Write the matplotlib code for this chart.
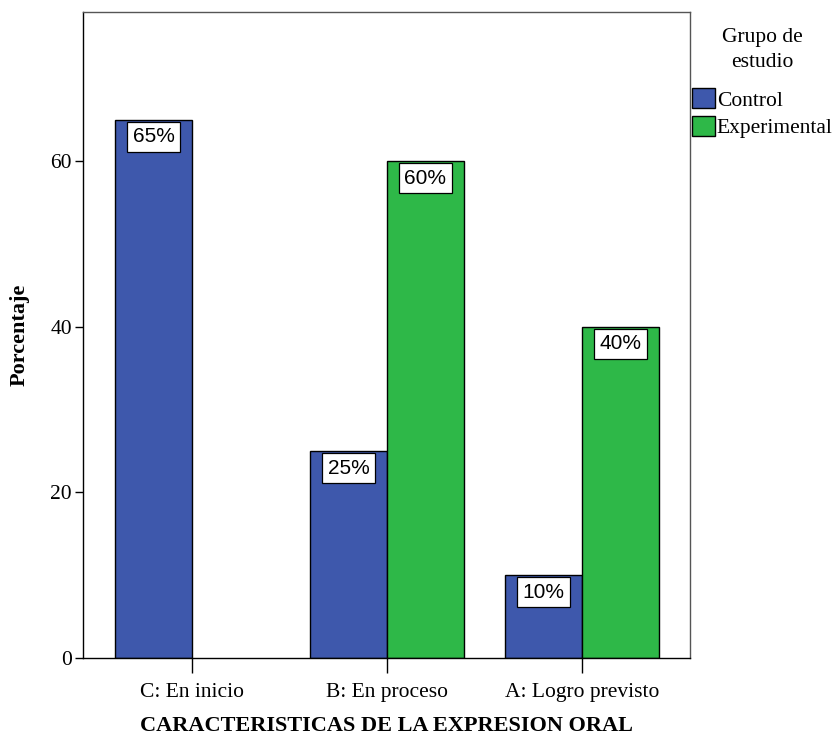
import numpy as np
import matplotlib.pyplot as plt
from matplotlib.patches import Patch

# Porcentaje por nivel de logro y grupo
categorias = ["C: En inicio", "B: En proceso", "A: Logro previsto"]
control = [65, 25, 10]
experimental = [0, 60, 40]
grupos = ["Control", "Experimental"]
colores = ["#3E58AC", "#2EB848"]

serif = "Liberation Serif"
sans = "Liberation Sans"

fig = plt.figure(figsize=(8.39, 7.36), dpi=100)
ax = fig.add_axes([0.0989, 0.106, 0.7235, 0.8777])

x = np.arange(len(categorias))
ancho = 0.395

for serie, offset, color in [(control, -ancho / 2, colores[0]), (experimental, ancho / 2, colores[1])]:
    for xi, v in zip(x, serie):
        if v <= 0:
            continue
        ax.bar(xi + offset, v, width=ancho, color=color, edgecolor="black", linewidth=1.0, zorder=2)
        ax.annotate(f"{v}%", (xi + offset, v), xytext=(0, -5.5), textcoords="offset points",
                    ha="center", va="top", fontsize=15, family=sans, zorder=3,
                    bbox=dict(boxstyle="square,pad=0.27", fc="white", ec="black", lw=0.9))

ax.set_xlim(-0.559, 2.554)
ax.set_ylim(0, 78)
ax.set_yticks([0, 20, 40, 60])
ax.set_xticks(x)
ax.set_xticklabels(categorias, family=serif, fontsize=15.5)
for lbl in ax.get_yticklabels():
    lbl.set_family(serif)
    lbl.set_fontsize(15.5)
ax.tick_params(axis="y", length=6, width=1.0, pad=2)
ax.tick_params(axis="x", length=11, width=1.0, pad=7)

for sp in ax.spines.values():
    sp.set_linewidth(1.0)
ax.spines["top"].set_color("#555555")
ax.spines["right"].set_color("#555555")

ax.set_ylabel("Porcentaje", family=serif, fontsize=16, fontweight="bold", labelpad=15)
ax.set_xlabel("CARACTERISTICAS DE LA EXPRESION ORAL", family=serif, fontsize=16,
              fontweight="bold", labelpad=10)

handles = [Patch(facecolor=c, edgecolor="black", linewidth=1.0) for c in colores]
leg = fig.legend(handles, grupos, loc="upper left", bbox_to_anchor=(0.825, 0.962),
                 frameon=False, title="Grupo de\nestudio", handlelength=1.05, handleheight=1.05,
                 handletextpad=0.1, labelspacing=0.25, borderpad=0, borderaxespad=0,
                 prop={"family": serif, "size": 15.5},
                 title_fontproperties={"family": serif, "size": 15.5})
leg.get_title().set_multialignment("center")
leg.get_title().set_linespacing(1.4)
leg._legend_box.sep = 12

fig.savefig("out.png", dpi=100)
